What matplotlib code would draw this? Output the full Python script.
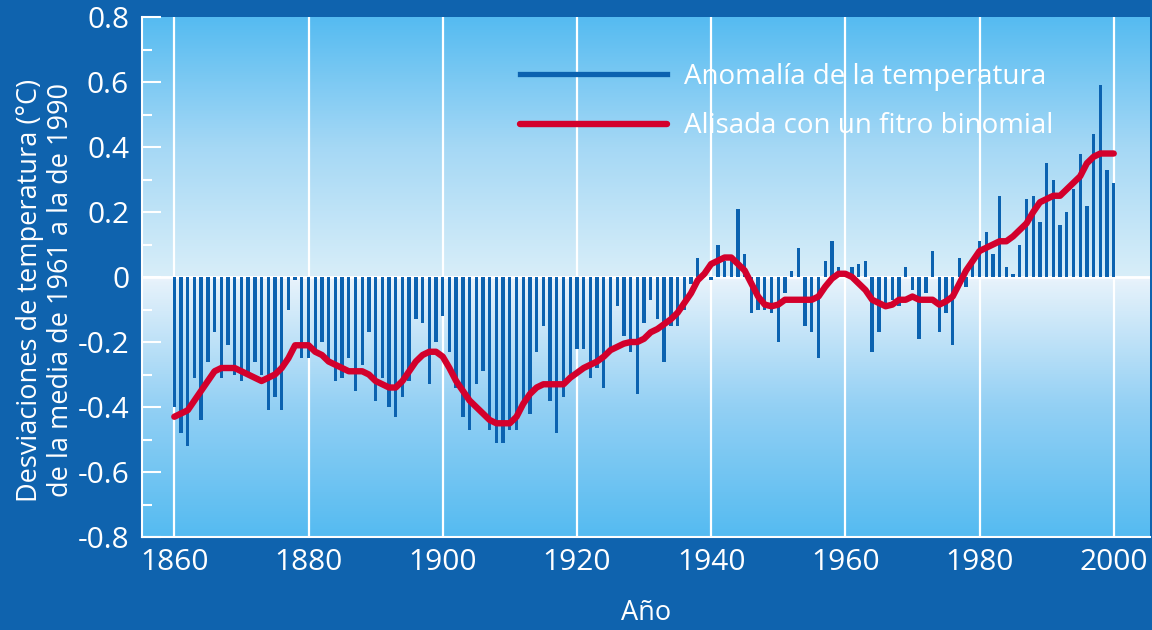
import numpy as np
import matplotlib
matplotlib.use("Agg")
import matplotlib.pyplot as plt
from matplotlib.colors import LinearSegmentedColormap
from matplotlib.lines import Line2D
from matplotlib.ticker import MultipleLocator, FuncFormatter

# ---------------- data ----------------
years = list(range(1860, 2001))
anomaly = [
    -0.40, -0.48, -0.52, -0.31, -0.44, -0.26, -0.17, -0.31, -0.21, -0.30,  # 1860-69
    -0.32, -0.30, -0.26, -0.30, -0.41, -0.37, -0.41, -0.10, -0.01, -0.25,  # 1870-79
    -0.25, -0.23, -0.20, -0.26, -0.32, -0.31, -0.25, -0.35, -0.27, -0.17,  # 1880-89
    -0.38, -0.31, -0.40, -0.43, -0.37, -0.32, -0.13, -0.14, -0.33, -0.20,  # 1890-99
    -0.12, -0.23, -0.34, -0.43, -0.47, -0.33, -0.29, -0.47, -0.51, -0.51,  # 1900-09
    -0.47, -0.47, -0.40, -0.42, -0.23, -0.15, -0.38, -0.48, -0.37, -0.31,  # 1910-19
    -0.22, -0.22, -0.31, -0.28, -0.34, -0.22, -0.09, -0.18, -0.23, -0.36,  # 1920-29
    -0.14, -0.07, -0.13, -0.26, -0.15, -0.15, -0.10, -0.02, 0.06, 0.01,    # 1930-39
    -0.01, 0.10, 0.05, 0.06, 0.21, 0.07, -0.11, -0.10, -0.10, -0.11,       # 1940-49
    -0.20, -0.05, 0.02, 0.09, -0.15, -0.17, -0.25, 0.05, 0.11, 0.03,       # 1950-59
    0.01, 0.03, 0.04, 0.05, -0.23, -0.17, -0.08, -0.07, -0.09, 0.03,       # 1960-69
    -0.04, -0.19, -0.05, 0.08, -0.17, -0.11, -0.21, 0.06, -0.03, 0.06,     # 1970-79
    0.11, 0.14, 0.07, 0.25, 0.03, 0.01, 0.10, 0.24, 0.25, 0.17,            # 1980-89
    0.35, 0.30, 0.16, 0.20, 0.27, 0.38, 0.22, 0.44, 0.59, 0.33,            # 1990-99
    0.29,                                                                  # 2000
]
smoothed = [
    -0.43, -0.42, -0.41, -0.38, -0.35, -0.32, -0.29, -0.28, -0.28, -0.28,  # 1860-69
    -0.29, -0.30, -0.31, -0.32, -0.31, -0.30, -0.28, -0.25, -0.21, -0.21,  # 1870-79
    -0.21, -0.23, -0.24, -0.26, -0.27, -0.28, -0.29, -0.29, -0.29, -0.30,  # 1880-89
    -0.32, -0.33, -0.34, -0.34, -0.32, -0.29, -0.26, -0.24, -0.23, -0.23,  # 1890-99
    -0.245, -0.28, -0.32, -0.35, -0.38, -0.40, -0.42, -0.44, -0.45, -0.45, # 1900-09
    -0.45, -0.43, -0.39, -0.36, -0.34, -0.33, -0.33, -0.33, -0.33, -0.31,  # 1910-19
    -0.295, -0.28, -0.27, -0.26, -0.245, -0.225, -0.215, -0.205, -0.20, -0.20,  # 1920-29
    -0.19, -0.17, -0.16, -0.145, -0.13, -0.11, -0.08, -0.05, -0.01, 0.01,  # 1930-39
    0.04, 0.05, 0.06, 0.06, 0.04, 0.02, -0.02, -0.06, -0.085, -0.09,       # 1940-49
    -0.085, -0.07, -0.07, -0.07, -0.07, -0.07, -0.06, -0.03, -0.005, 0.01, # 1950-59
    0.01, 0.0, -0.02, -0.04, -0.07, -0.08, -0.09, -0.085, -0.07, -0.07,    # 1960-69
    -0.06, -0.07, -0.07, -0.07, -0.085, -0.075, -0.06, -0.02, 0.02, 0.05,  # 1970-79
    0.08, 0.09, 0.10, 0.11, 0.11, 0.125, 0.145, 0.165, 0.20, 0.23,         # 1980-89
    0.24, 0.25, 0.25, 0.27, 0.29, 0.31, 0.35, 0.37, 0.38, 0.38,            # 1990-99
    0.38,                                                                  # 2000
]
x_ticks = [1860, 1880, 1900, 1920, 1940, 1960, 1980, 2000]
y_ticks = [-0.8, -0.6, -0.4, -0.2, 0.0, 0.2, 0.4, 0.6, 0.8]
legend_labels = ["Anomalía de la temperatura", "Alisada con un fitro binomial"]
x_label = "Año"
y_label = "Desviaciones de temperatura (°C)\nde la media de 1961 a la de 1990"

# ---------------- style ----------------
FIG_BG = "#0f63ae"
BAR_C = "#0b62b0"
RED = "#d3002c"
WHITE = "white"
plt.rcParams["font.family"] = ["Open Sans", "DejaVu Sans"]

fig = plt.figure(figsize=(11.52, 6.30), dpi=100, facecolor=FIG_BG)
ax = fig.add_axes([0.123, 0.1476, 0.875, 0.8254])

xlim = (1855.14, 2005.36)
ylim = (-0.8, 0.8)
ax.set_xlim(*xlim)
ax.set_ylim(*ylim)

# gradient background
cmap = LinearSegmentedColormap.from_list(
    "bg",
    [(0.0, "#55bbf1"), (0.25, "#93d0f4"), (0.49, "#e6f2fb"), (0.5, "#f1f6fc"),
     (0.501, "#d8eef9"), (0.75, "#a5d8f5"), (1.0, "#55bbf1")])
grad = np.linspace(0, 1, 512).reshape(-1, 1)
ax.imshow(grad, extent=(xlim[0], xlim[1], ylim[0], ylim[1]), origin="lower",
          aspect="auto", cmap=cmap, zorder=0, interpolation="bilinear")

# vertical grid lines
for xt in x_ticks:
    ax.axvline(xt, color=WHITE, lw=1.6, zorder=1)
ax.axhline(0, color=WHITE, lw=2.0, zorder=1)

ax.bar(years, anomaly, width=0.5, color=BAR_C, zorder=2, linewidth=0)
ax.plot(years, smoothed, color=RED, lw=4.6, zorder=3,
        solid_capstyle="round", solid_joinstyle="round")

# axes styling
for s in ["top", "right"]:
    ax.spines[s].set_visible(False)
ax.spines["left"].set_color(WHITE)
ax.spines["left"].set_linewidth(1.5)
ax.spines["bottom"].set_color(WHITE)
ax.spines["bottom"].set_linewidth(1.5)

ax.set_xticks(x_ticks)
ax.set_xticklabels([str(v) for v in x_ticks])
ax.set_yticks(y_ticks)
ax.yaxis.set_major_formatter(FuncFormatter(
    lambda v, p: "0" if abs(v) < 1e-9 else ("%.1f" % v)))
ax.yaxis.set_minor_locator(MultipleLocator(0.1))
ax.tick_params(axis="x", length=0, pad=8, labelsize=21.5, colors=WHITE)
ax.tick_params(axis="y", which="major", direction="in", length=14, width=1.5,
               pad=9, labelsize=21.5, colors=WHITE)
ax.tick_params(axis="y", which="minor", direction="in", length=7, width=1.5,
               colors=WHITE)

ax.set_xlabel(x_label, color=WHITE, fontsize=19.5, labelpad=16)
ax.set_ylabel(y_label, color=WHITE, fontsize=19.5, linespacing=1.15)
ax.yaxis.set_label_coords(-0.066, 0.475)

handles = [Line2D([0], [0], color=BAR_C, lw=3.8),
           Line2D([0], [0], color=RED, lw=4.6, solid_capstyle="round")]
leg = ax.legend(handles, legend_labels, loc="upper left",
                bbox_to_anchor=(0.375, 0.912), frameon=False, fontsize=20,
                handlelength=5.3, handletextpad=0.6, labelspacing=0.78,
                borderpad=0, borderaxespad=0)
for t in leg.get_texts():
    t.set_color(WHITE)

fig.savefig("out.png", dpi=100, facecolor=FIG_BG)
